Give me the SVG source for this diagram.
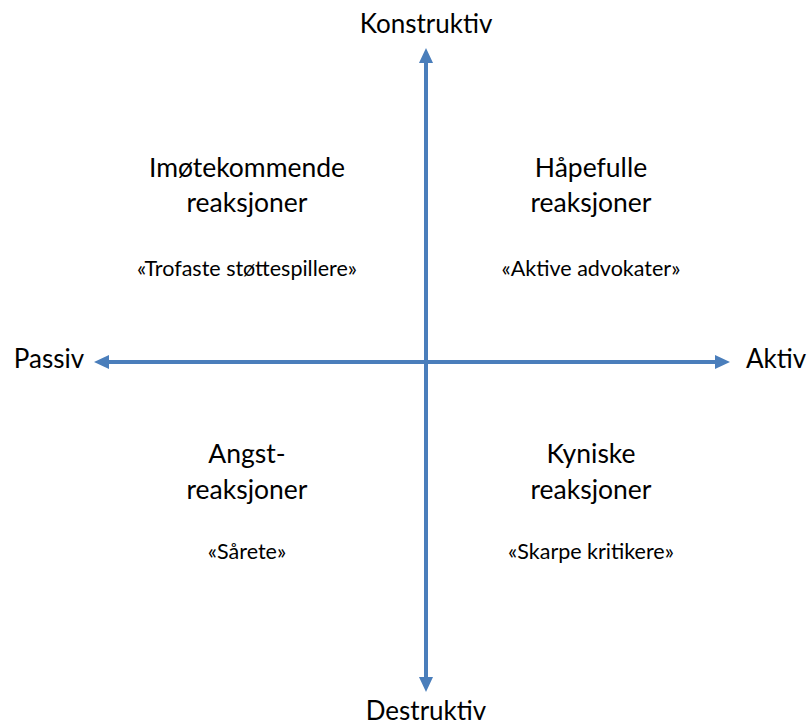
<svg xmlns="http://www.w3.org/2000/svg" width="807" height="727" viewBox="0 0 807 727">
<style>
text{font-family:Lato,"Open Sans","Liberation Sans",sans-serif;fill:#000;text-anchor:middle}
.ax{font-size:26px}
.h{font-size:26.5px}
.s{font-size:21.5px}
.axis{stroke:#4A7EBB;stroke-width:4;fill:none}
</style>
<defs>
<marker id="ah" markerUnits="userSpaceOnUse" markerWidth="16" markerHeight="16" viewBox="0 0 16 16" refX="0" refY="8" orient="auto">
<polygon points="0,1 15,8 0,15" fill="#4A7EBB"/>
</marker>
</defs>
<rect width="807" height="727" fill="#fff"/>
<g id="connectors">
<line class="axis" x1="426" y1="362" x2="426" y2="63" marker-end="url(#ah)"/>
<line class="axis" x1="426" y1="362" x2="426" y2="677" marker-end="url(#ah)"/>
<line class="axis" x1="426" y1="362" x2="109" y2="362" marker-end="url(#ah)"/>
<line class="axis" x1="426" y1="362" x2="715" y2="362" marker-end="url(#ah)"/>
</g>
<g id="label-konstruktiv"><text class="ax" x="426" y="33">Konstruktiv</text></g>
<g id="label-destruktiv"><text class="ax" x="426" y="720">Destruktiv</text></g>
<g id="label-passiv"><text class="ax" x="49" y="368">Passiv</text></g>
<g id="label-aktiv"><text class="ax" x="776" y="368">Aktiv</text></g>
<g id="q-imotekommende">
<text class="h" x="247" y="177">Imøtekommende</text>
<text class="h" x="247" y="212">reaksjoner</text>
<text class="s" x="247" y="276">«Trofaste støttespillere»</text>
</g>
<g id="q-hapefulle">
<text class="h" x="591" y="177">Håpefulle</text>
<text class="h" x="591" y="212">reaksjoner</text>
<text class="s" x="591" y="276">«Aktive advokater»</text>
</g>
<g id="q-angst">
<text class="h" x="247" y="463">Angst-</text>
<text class="h" x="247" y="499">reaksjoner</text>
<text class="s" x="247" y="559">«Sårete»</text>
</g>
<g id="q-kyniske">
<text class="h" x="591" y="463">Kyniske</text>
<text class="h" x="591" y="499">reaksjoner</text>
<text class="s" x="591" y="559">«Skarpe kritikere»</text>
</g>
</svg>
